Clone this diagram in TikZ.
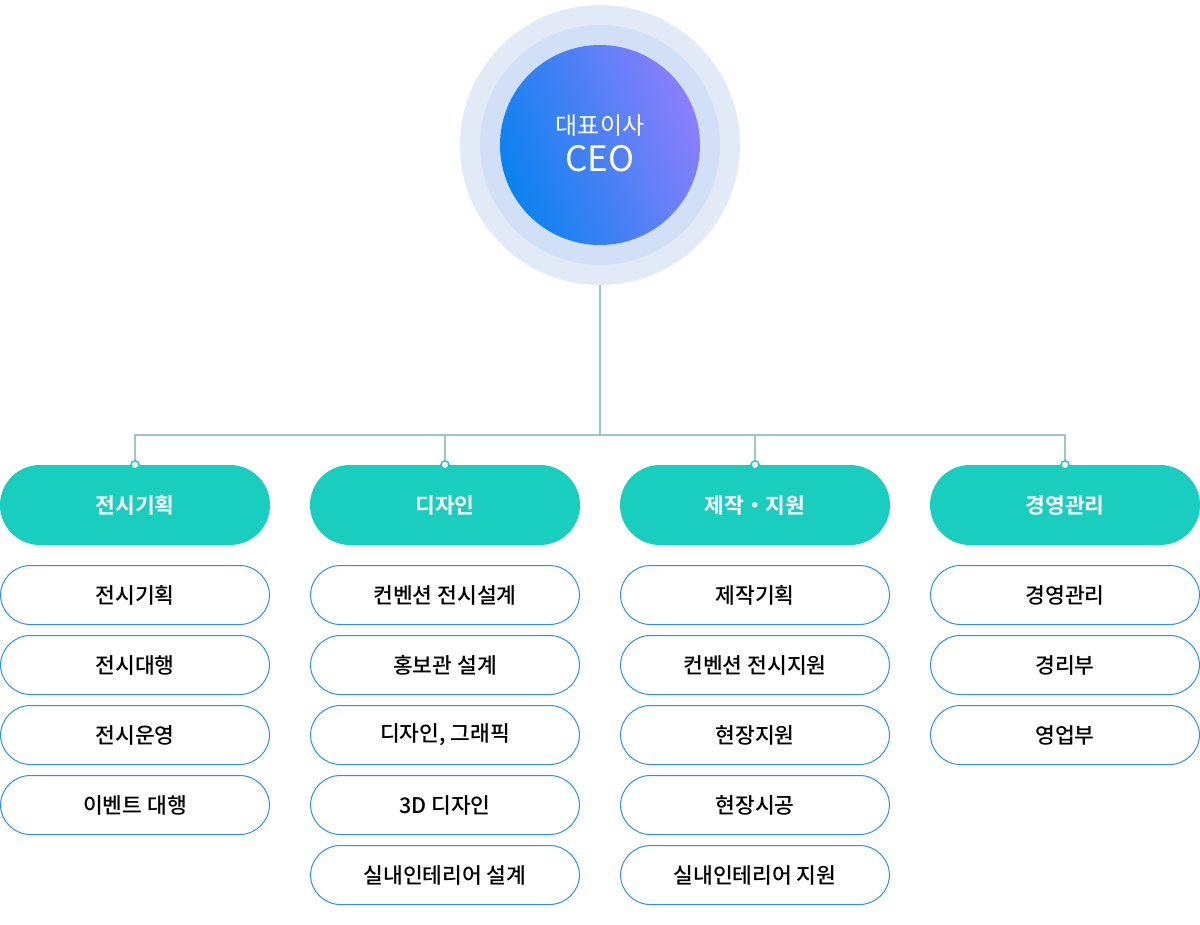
\documentclass[tikz,border=0pt]{standalone}
\usepackage{fontspec}
\newfontfamily\kr{Noto Sans CJK KR}
\newfontfamily\krb{Noto Sans CJK KR Bold}
\newfontfamily\krm{Noto Sans CJK KR Medium}
\definecolor{ringout}{HTML}{E3EAF7}
\definecolor{ringmid}{HTML}{D2E0F7}
\definecolor{ceoA}{HTML}{0A83EF}
\definecolor{ceoB}{HTML}{8C7EFB}
\definecolor{linec}{HTML}{9CC5CD}
\definecolor{teal}{HTML}{1ACEBF}
\definecolor{subb}{HTML}{2D8FEF}
\tikzset{
  headpill/.style={rounded corners=40pt, fill=teal, draw=none, minimum width=270pt, minimum height=80pt, inner sep=0pt, text=white, font=\krb\fontsize{21.5pt}{24pt}\selectfont},
  subpill/.style={rounded corners=30pt, fill=white, draw=subb, line width=1pt, minimum width=269pt, minimum height=59pt, inner sep=0pt, text=black, font=\krm\fontsize{21.5pt}{24pt}\selectfont},
  conn/.style={draw=linec, line width=2pt},
  dotc/.style={circle, fill=white, draw=teal, line width=1.5pt, minimum size=8pt, inner sep=0pt}
}
\begin{document}
\begin{tikzpicture}[x=1pt,y=-1pt]
\useasboundingbox (0,0) rectangle (1200,925);
\fill[white] (0,0) rectangle (1200,925);
% CEO
\fill[ringout] (600,145) circle (140);
\fill[ringmid] (600,145) circle (120);
\shade[left color=ceoA, right color=ceoB, shading angle=110] (600,145) circle (100);
\node[text=white, font=\kr\fontsize{24pt}{27pt}\selectfont] (ceot) at (600,126) {대표이사};
\node[text=white, font=\kr\fontsize{35pt}{38pt}\selectfont] (ceo) at (600,159) {CEO};
\coordinate (ceob) at (600,285);
\coordinate (hub) at (600,435);
% head pills
\node[headpill] (h1) at (135,505) {전시기획};
\node[headpill] (h2) at (445,505) {디자인};
\node[headpill] (h3) at (755,505) {제작・지원};
\node[headpill] (h4) at (1065,505) {경영관리};
% connectors
\draw[conn] (ceob) -- (hub);
\draw[conn] (hub) -| (h1.north);
\draw[conn] (hub) -| (h2.north);
\draw[conn] (hub) -| (h3.north);
\draw[conn] (hub) -| (h4.north);
\foreach \h in {h1,h2,h3,h4} \node[dotc] at (\h.north) {};
% sub pills col 1
\node[subpill] (a1) at (135,595) {전시기획};
\node[subpill] (a2) at (135,665) {전시대행};
\node[subpill] (a3) at (135,735) {전시운영};
\node[subpill] (a4) at (135,805) {이벤트 대행};
% col 2
\node[subpill] (b1) at (445,595) {컨벤션 전시설계};
\node[subpill] (b2) at (445,665) {홍보관 설계};
\node[subpill] (b3) at (445,735) {디자인, 그래픽};
\node[subpill] (b4) at (445,805) {3D 디자인};
\node[subpill] (b5) at (445,875) {실내인테리어 설계};
% col 3
\node[subpill] (c1) at (755,595) {제작기획};
\node[subpill] (c2) at (755,665) {컨벤션 전시지원};
\node[subpill] (c3) at (755,735) {현장지원};
\node[subpill] (c4) at (755,805) {현장시공};
\node[subpill] (c5) at (755,875) {실내인테리어 지원};
% col 4
\node[subpill] (d1) at (1065,595) {경영관리};
\node[subpill] (d2) at (1065,665) {경리부};
\node[subpill] (d3) at (1065,735) {영업부};
\end{tikzpicture}
\end{document}
